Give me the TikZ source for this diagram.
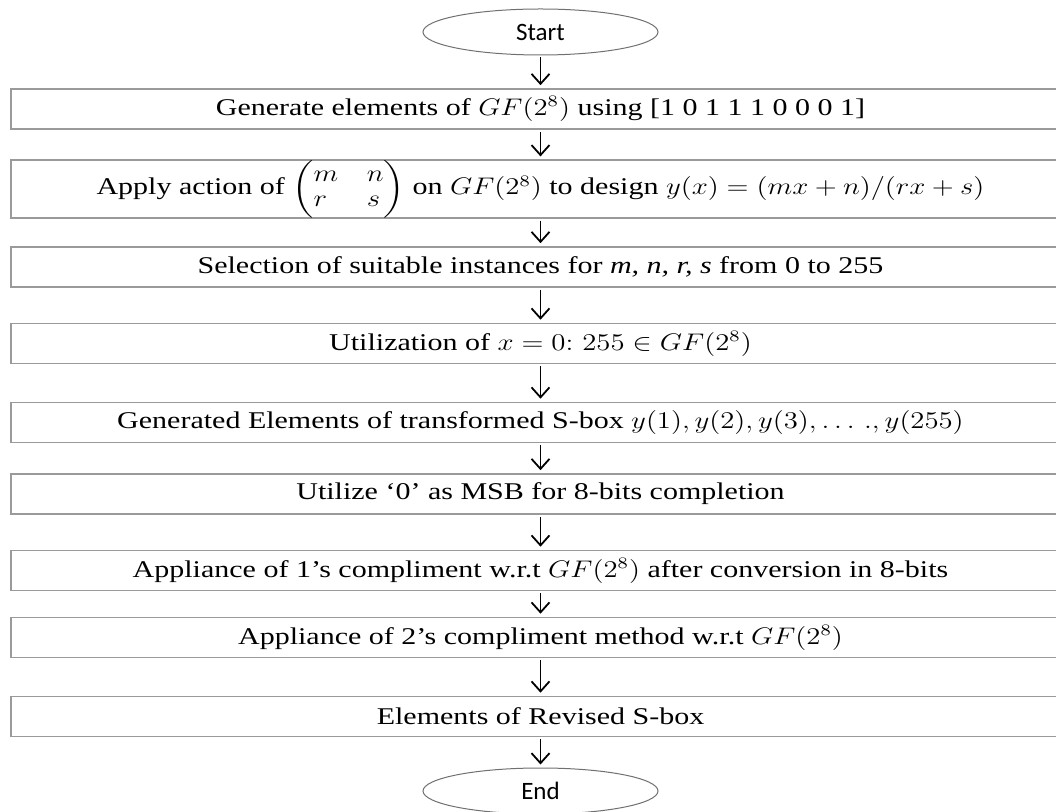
\documentclass[tikz,border=0pt]{standalone}
\usepackage{amsmath,amssymb}
\usepackage{graphicx}
\usepackage{fontspec}
\setmainfont[FakeStretch=1.25]{Liberation Serif}
\newfontfamily\termfont{Carlito}
\usepackage{tikz}
\usetikzlibrary{arrows.meta,positioning,shapes.geometric}
\definecolor{cframe}{HTML}{9A9A9A}
\definecolor{cterm}{HTML}{707070}
\newcommand{\mth}[1]{\scalebox{1.2}[1]{$#1$}}
\newcommand{\gfe}{\mth{GF(2^8)}}
\tikzset{
  term/.style={ellipse, draw=cterm, line width=0.5pt, inner sep=0pt, minimum width=117.5pt, minimum height=23pt, font=\termfont\fontsize{12.5}{14}\selectfont},
  stepbox/.style={draw=cframe, line width=0.8pt, minimum width=529.5pt, minimum height=20pt, inner sep=2pt, font=\fontsize{12}{14}\selectfont},
  tall/.style={stepbox, minimum height=25pt, inner sep=0pt},
  ar/.style={-{Straight Barb[length=5pt, width=9pt, line width=0.9pt]}, line width=0.9pt, shorten <=1pt, shorten >=1.5pt},
}
\begin{document}
\begin{tikzpicture}[x=0.5pt, y=-0.5pt]
\useasboundingbox (0,0) rectangle (1056,812);
% terminals
\node[term] (st) at (540.5,32) {Start};
\node[term] (en) at (540.5,791) {End};
% steps
\node[stepbox] (gen) at (540.5,109) {Generate elements of \gfe{} using [1 0 1 1 1 0 0 0 1]};
\node[tall] (act) at (540.5,189) {Apply action of \mth{\renewcommand{\arraystretch}{0.9}\left(\begin{array}{@{}l@{\hspace{1em}}l@{}} m & n\\ r & s\end{array}\right)} on \gfe{} to design \mth{y(x) = (mx+n)/(rx+s)}};
\node[stepbox] (sel) at (540.5,267) {Selection of suitable instances for \textit{m, n, r, s} from 0 to 255};
\node[stepbox] (uti) at (540.5,343.5) {Utilization of \mth{x = 0{:}\ 255 \in GF(2^8)}};
\node[stepbox] (trn) at (540.5,422.5) {Generated Elements of transformed S-box \mth{y(1), y(2), y(3), \dots\,., y(255)}};
\node[stepbox] (msb) at (540.5,494) {Utilize ‘0’ as MSB for 8-bits completion};
\node[stepbox] (one) at (540.5,570.5) {Appliance of 1’s compliment w.r.t \gfe{} after conversion in 8-bits};
\node[stepbox] (two) at (540.5,637.5) {Appliance of 2’s compliment method w.r.t \gfe};
\node[stepbox] (rev) at (540.5,716.5) {Elements of Revised S-box};
% flow
\draw[ar] (st) -- (gen); \draw[ar] (gen) -- (act); \draw[ar] (act) -- (sel); \draw[ar] (sel) -- (uti);
\draw[ar] (uti) -- (trn); \draw[ar] (trn) -- (msb); \draw[ar] (msb) -- (one); \draw[ar] (one) -- (two);
\draw[ar] (two) -- (rev); \draw[ar] (rev) -- (en);
\end{tikzpicture}
\end{document}
